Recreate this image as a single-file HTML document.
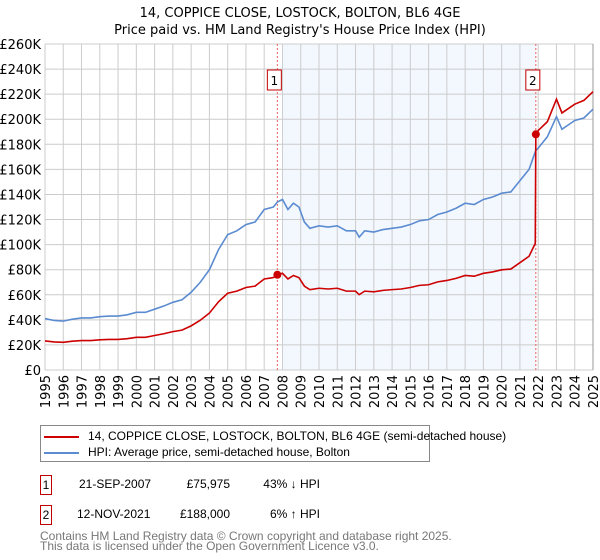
<!DOCTYPE html>
<html><head><meta charset="utf-8"><style>
body{margin:0;background:#fff;font-family:"Liberation Sans","DejaVu Sans",sans-serif;}
#wrap{position:relative;width:600px;height:560px;overflow:hidden;}
.c{position:absolute;white-space:nowrap;}
</style></head><body><div id="wrap">
<svg id="chart" width="600" height="560" style="position:absolute;left:0;top:0;font-family:'DejaVu Sans','Liberation Sans',sans-serif">
<text x="300" y="17" text-anchor="middle" font-size="13">14, COPPICE CLOSE, LOSTOCK, BOLTON, BL6 4GE</text>
<text x="300" y="34" text-anchor="middle" font-size="13">Price paid vs. HM Land Registry's House Price Index (HPI)</text>
</svg>
<script>
const years=[1995,1995.5,1996,1996.5,1997,1997.5,1998,1998.5,1999,1999.5,2000,2000.5,2001,2001.5,2002,2002.5,2003,2003.5,2004,2004.5,2005,2005.5,2006,2006.5,2007,2007.5,2007.72,2008,2008.3,2008.6,2008.9,2009.2,2009.5,2010,2010.5,2011,2011.5,2012,2012.2,2012.5,2013,2013.5,2014,2014.5,2015,2015.5,2016,2016.5,2017,2017.5,2018,2018.5,2019,2019.5,2020,2020.5,2021,2021.5,2021.84,2021.87,2022,2022.5,2023,2023.3,2023.7,2024,2024.5,2025];
const hpi=[41,39.5,39,40.5,41.5,41.5,42.5,43,43,44,46,46,48.5,51,54,56,62,70,80,96,108,111,116,118,128,130,134,136,128,133,130,118,113,115,114,115,111,111,106,111,110,112,113,114,116,119,120,124,126,129,133,132,136,138,141,142,151,160,174,175,177,186,202,192,196,199,201,208];
const paid=[23.2,22.4,22.1,23,23.5,23.5,24.1,24.4,24.4,25,26.1,26.1,27.5,28.9,30.6,31.8,35.2,39.7,45.4,54.4,61.2,62.9,65.8,66.9,72.6,73.7,76,77.1,72.6,75.4,73.7,66.9,64.1,65.2,64.6,65.2,62.9,62.9,60.1,62.9,62.4,63.5,64.1,64.6,65.8,67.5,68,70.3,71.4,73.1,75.4,74.8,77.1,78.2,79.9,80.5,85.6,90.7,101,188,191,198,216,205,209,212,215,222];
const saleYears=[2007.72,2021.87];
const saleValues=[75.975,188];
const saleLabels=["1","2"];
const yTicks=[0,20,40,60,80,100,120,140,160,180,200,220,240,260];
const yTickLabels=["£0","£20K","£40K","£60K","£80K","£100K","£120K","£140K","£160K","£180K","£200K","£220K","£240K","£260K"];
const xTicks=[1995,1996,1997,1998,1999,2000,2001,2002,2003,2004,2005,2006,2007,2008,2009,2010,2011,2012,2013,2014,2015,2016,2017,2018,2019,2020,2021,2022,2023,2024,2025];
const shadeRange=[2008.0,2021.87];

const L=45,R=593,T=44,B=370;
const X=y=>L+(y-1995)/30*(R-L);
const Y=v=>B-v/260*(B-T);
const svg=document.getElementById('chart');
const NS='http://www.w3.org/2000/svg';
function mk(tag,attrs,parent){const e=document.createElementNS(NS,tag);for(const k in attrs)e.setAttribute(k,attrs[k]);(parent||svg).appendChild(e);return e;}

let e=mk('rect',{x:X(shadeRange[0]),y:T,width:X(shadeRange[1])-X(shadeRange[0]),height:B-T,fill:'#eef3fd',opacity:0.7});


yTicks.forEach((v,i)=>{
  let g=mk('line',{x1:L,x2:R,y1:Y(v),y2:Y(v),stroke:'#cccccc','stroke-width':1});
  
  
  let t=mk('text',{x:L-4,y:Y(v)+5,'text-anchor':'end','font-size':13,fill:'#000'});
  t.textContent=yTickLabels[i];
  
  
});
xTicks.forEach(yr=>{
  let g=mk('line',{x1:X(yr),x2:X(yr),y1:T,y2:B,stroke:'#cccccc','stroke-width':1});
  
  
  let t=mk('text',{x:0,y:0,'text-anchor':'end','font-size':13,transform:`translate(${X(yr)+5},${B+5}) rotate(-90)`});
  t.textContent=yr;
  
  
});
e=mk('line',{x1:R,x2:R,y1:T,y2:B,stroke:'#999',"stroke-width":1});


saleYears.forEach((yr,i)=>{
  let l=mk('line',{x1:X(yr),x2:X(yr),y1:T,y2:B,stroke:'#e86060','stroke-width':1,'stroke-dasharray':'2,2'});
  
  
  let bx=mk('rect',{x:X(yr)-10,y:70,width:14,height:20,fill:'#fff',stroke:'#c00000','stroke-width':1});
  
  
  let t=mk('text',{x:X(yr)-3,y:85,'text-anchor':'middle','font-size':12});
  t.textContent=saleLabels[i];
  
  
});
const hp=mk('polyline',{points:years.map((y,i)=>X(y)+','+Y(hpi[i])).join(' '),fill:'none',stroke:'#5b8bd0','stroke-width':1.6});


const pp=mk('polyline',{points:years.map((y,i)=>X(y)+','+Y(paid[i])).join(' '),fill:'none',stroke:'#cc0000','stroke-width':1.6});


saleYears.forEach((yr,i)=>{
  let c=mk('circle',{cx:X(yr),cy:Y(saleValues[i]),r:4,fill:'#cc0000'});
  
  
});
</script>
<div style="position:absolute;left:40px;top:425px;width:388px;height:35px;border:1px solid #888;font-size:12px;font-family:'Liberation Sans',sans-serif">
 <div class="c" style="left:3px;top:3px"><span style="display:inline-block;width:35px;height:2px;background:#cc0000;vertical-align:middle;margin-right:9px"></span>14, COPPICE CLOSE, LOSTOCK, BOLTON, BL6 4GE (semi-detached house)</div>
 <div class="c" style="left:3px;top:19px"><span style="display:inline-block;width:35px;height:2px;background:#5b8bd0;vertical-align:middle;margin-right:9px"></span>HPI: Average price, semi-detached house, Bolton</div>
</div>
<div style="position:absolute;left:0;top:0;width:600px;height:560px;font-size:12px;font-family:'Liberation Sans',sans-serif">
 <div class="c" style="left:40px;top:475px;width:10px;height:18px;border:1px solid #c00000;text-align:center;line-height:18px">1</div>
 <div class="c" style="left:79px;top:477px">21-SEP-2007</div>
 <div class="c" style="left:150px;width:80px;text-align:right;top:477px">£75,975</div>
 <div class="c" style="left:240px;width:80px;text-align:right;top:477px">43% ↓ HPI</div>
 <div class="c" style="left:40px;top:505px;width:10px;height:18px;border:1px solid #c00000;text-align:center;line-height:18px">2</div>
 <div class="c" style="left:77px;top:507px">12-NOV-2021</div>
 <div class="c" style="left:150px;width:80px;text-align:right;top:507px">£188,000</div>
 <div class="c" style="left:240px;width:80px;text-align:right;top:507px">6% ↑ HPI</div>
</div>
<div class="c" style="left:40px;top:531px;font-size:12px;line-height:10px;color:#777;font-family:'Liberation Sans',sans-serif">Contains HM Land Registry data © Crown copyright and database right 2025.<br>This data is licensed under the Open Government Licence v3.0.</div>
</div></body></html>
